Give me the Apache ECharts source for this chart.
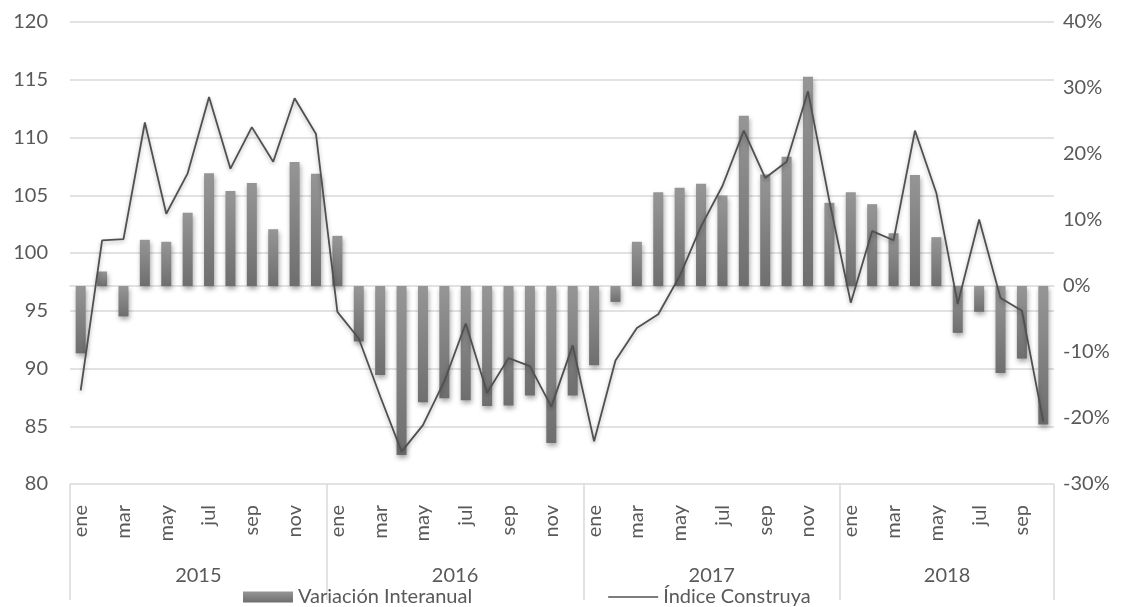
<!DOCTYPE html>
<html>
<head>
<meta charset="utf-8">
<script src="https://cdn.jsdelivr.net/npm/echarts@6/dist/echarts.min.js"></script>
<style>
  html, body { margin: 0; padding: 0; background: #fff; }
  #main { width: 1127px; height: 607px; }
</style>
</head>
<body>
<div id="main"></div>
<script>
// months ene 2015 .. oct 2018
const monthNames = ['ene','feb','mar','abr','may','jun','jul','ago','sep','oct','nov','dic'];
const years = ['2015', '2016', '2017', '2018'];
const monthsPerYear = [12, 12, 12, 10];

const variacion = [
  -10.2, 2.2, -4.6, 7.0, 6.7, 11.1, 17.1, 14.4, 15.6, 8.6, 18.8, 17.0,
  7.6, -8.4, -13.5, -25.6, -17.6, -17.0, -17.3, -18.2, -18.1, -16.6, -23.8, -16.6,
  -12.0, -2.4, 6.7, 14.2, 14.9, 15.5, 13.7, 25.8, 16.9, 19.6, 31.7, 12.6,
  14.2, 12.4, 8.0, 16.8, 7.4, -7.1, -3.9, -13.2, -11.0, -21.0
];

const indice = [
  88.1, 101.1, 101.2, 111.3, 103.4, 106.9, 113.5, 107.3, 110.9, 107.9, 113.4, 110.3,
  94.9, 92.6, 87.6, 82.8, 85.1, 88.9, 93.9, 87.9, 90.9, 90.2, 86.7, 92.0,
  83.7, 90.7, 93.5, 94.7, 98.0, 102.3, 105.8, 110.6, 106.5, 107.9, 114.0, 104.5,
  95.7, 101.9, 101.1, 110.6, 105.2, 95.6, 102.9, 96.1, 95.0, 85.4
];

// category labels, year boundaries and year centres
const categories = [];
const yearBounds = [0];
const yearCenters = [];
let pos = 0;
years.forEach((y, i) => {
  for (let m = 0; m < monthsPerYear[i]; m++) categories.push(monthNames[m]);
  yearCenters.push(pos + monthsPerYear[i] / 2);
  pos += monthsPerYear[i];
  yearBounds.push(pos);
});

const FONT = 'Lato';
const FS = 20;
const TXT = '#595959';
const GRID = '#d9d9d9';

var myChart = echarts.init(document.getElementById('main'));

const option = {
  animation: false,
  textStyle: { fontFamily: FONT },
  grid: { left: 70, right: 73, top: 22, bottom: 123 },
  legend: {
    left: 238,
    top: 582,
    itemWidth: 50,
    itemHeight: 11,
    itemGap: 136,
    textStyle: { fontFamily: FONT, fontSize: 20, color: TXT },
    data: [
      { name: 'Variación Interanual', icon: 'rect' },
      { name: 'Índice Construya', icon: 'path://M0,0 L50,0 L50,1.6 L0,1.6 Z' }
    ]
  },
  xAxis: [
    {
      type: 'category',
      data: categories,
      position: 'bottom',
      axisLine: { show: true, lineStyle: { color: GRID, width: 1.5 } },
      axisTick: { show: false },
      axisLabel: {
        interval: 1,
        rotate: 90,
        margin: 21,
        fontSize: FS,
        color: TXT,
        fontFamily: FONT
      }
    },
    {
      type: 'value',
      min: 0,
      max: pos,
      position: 'bottom',
      axisLine: { show: false },
      splitLine: { show: false },
      axisTick: {
        show: true,
        customValues: yearBounds,
        length: 116,
        lineStyle: { color: GRID, width: 1.5 }
      },
      axisLabel: {
        customValues: yearCenters,
        margin: 82,
        fontSize: FS,
        color: TXT,
        fontFamily: FONT,
        formatter: (v) => years[yearCenters.indexOf(v)] || ''
      }
    }
  ],
  yAxis: [
    {
      type: 'value',
      min: 80,
      max: 120,
      interval: 5,
      axisLine: { show: false },
      axisTick: { show: false },
      splitLine: { lineStyle: { color: GRID, width: 1.5 } },
      axisLabel: { margin: 22, fontSize: FS, color: TXT, fontFamily: FONT }
    },
    {
      type: 'value',
      min: -30,
      max: 40,
      interval: 10,
      axisLine: { show: false },
      axisTick: { show: false },
      splitLine: { show: false },
      axisLabel: { margin: 9, fontSize: FS, color: TXT, fontFamily: FONT, formatter: '{value}%' }
    }
  ],
  series: [
    {
      name: 'Variación Interanual',
      type: 'bar',
      xAxisIndex: 0,
      yAxisIndex: 1,
      barWidth: 10,
      data: variacion,
      itemStyle: {
        color: new echarts.graphic.LinearGradient(0, 0, 0, 1, [
          { offset: 0, color: '#969696' },
          { offset: 1, color: '#6e6e6e' }
        ]),
        shadowBlur: 5,
        shadowColor: 'rgba(0,0,0,0.35)',
        shadowOffsetX: 1,
        shadowOffsetY: 3
      }
    },
    {
      name: 'Índice Construya',
      type: 'line',
      xAxisIndex: 0,
      yAxisIndex: 0,
      symbol: 'none',
      data: indice,
      z: 3,
      lineStyle: {
        color: '#505050',
        width: 1.8,
        shadowBlur: 4,
        shadowColor: 'rgba(0,0,0,0.3)',
        shadowOffsetY: 2
      },
      itemStyle: { color: '#505050' }
    }
  ]
};

myChart.setOption(option);
</script>
</body>
</html>
